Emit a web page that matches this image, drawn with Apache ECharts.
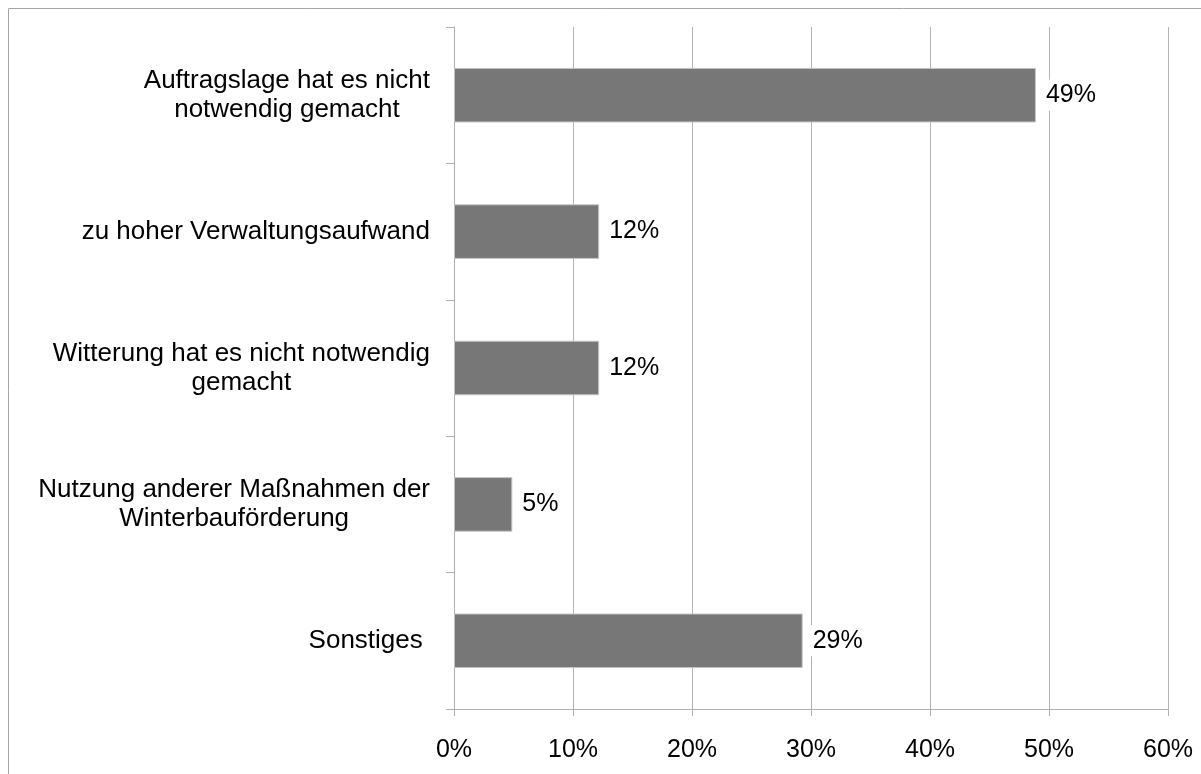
<!DOCTYPE html>
<html lang="de">
<head>
    <meta charset="UTF-8">
    <title>Gründe</title>
    <style>
        html, body { margin: 0; padding: 0; background: #fff; }
        #main { width: 1201px; height: 774px; }
    </style>
</head>
<body>
<div id="main"></div>
<script src="https://cdn.jsdelivr.net/npm/echarts@6/dist/echarts.min.js"></script>
<script>
    // Kategorien von oben nach unten
    var categories = [
        'Auftragslage hat es nicht\nnotwendig gemacht',
        'zu hoher Verwaltungsaufwand',
        'Witterung hat es nicht notwendig\ngemacht',
        'Nutzung anderer Maßnahmen der\nWinterbauförderung',
        'Sonstiges '
    ];
    var values = [48.9, 12.2, 12.2, 4.9, 29.3];
    var xTicks = [0, 10, 20, 30, 40, 50, 60];

    var font = '"Liberation Sans", Arial, sans-serif';
    var chart = echarts.init(document.getElementById('main'));

    chart.setOption({
        animation: false,
        backgroundColor: '#fff',
        textStyle: { fontFamily: font },
        graphic: [{
            type: 'rect',
            shape: { x: 8.5, y: 8.5, width: 1300, height: 900 },
            style: { fill: 'none', stroke: '#a6a6a6', lineWidth: 1 },
            silent: true
        }],
        grid: { left: 454, right: 33, top: 27, bottom: 65 },
        xAxis: {
            type: 'value',
            min: xTicks[0],
            max: xTicks[xTicks.length - 1],
            interval: xTicks[1] - xTicks[0],
            axisLine: { show: true, lineStyle: { color: '#b0b0b0' } },
            axisTick: { show: true, length: 7, lineStyle: { color: '#b0b0b0' } },
            splitLine: { show: true, lineStyle: { color: '#b3b3b3', width: 1 } },
            axisLabel: {
                formatter: '{value}%',
                color: '#000',
                fontSize: 25,
                fontFamily: font,
                margin: 29
            }
        },
        yAxis: {
            type: 'category',
            inverse: true,
            data: categories,
            axisLine: { show: true, lineStyle: { color: '#b0b0b0' } },
            axisTick: { show: true, length: 8, lineStyle: { color: '#b0b0b0' } },
            axisLabel: {
                margin: 24,
                color: '#000',
                fontSize: 26,
                fontFamily: font,
                formatter: function (v) {
                    return v.split('\n').map(function (s) { return '{c|' + s + '}'; }).join('\n');
                },
                rich: {
                    c: { align: 'center', fontSize: 26, lineHeight: 29, fontFamily: font, color: '#000' }
                }
            }
        },
        series: [{
            type: 'bar',
            data: values,
            barCategoryGap: '60%',
            itemStyle: { color: '#777777', borderColor: '#c4c4c4', borderWidth: 1 },
            label: {
                show: true,
                position: 'right',
                distance: 7,
                color: '#000',
                fontSize: 25,
                fontFamily: font,
                backgroundColor: '#fff',
                padding: [3, 3],
                formatter: function (p) { return Math.round(p.value) + '%'; }
            }
        }]
    });
</script>
</body>
</html>
